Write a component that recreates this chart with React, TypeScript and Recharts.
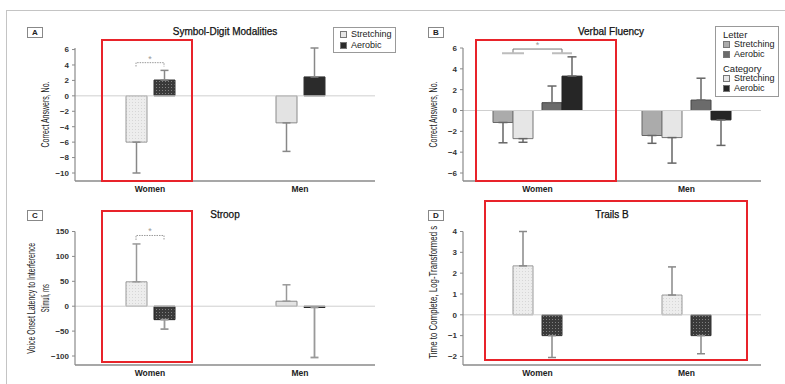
import React from "react";
import { BarChart, Bar, XAxis, YAxis, ErrorBar, ReferenceLine, Cell, LabelList } from "recharts";

const FONT = "'Liberation Sans', Arial, Helvetica, sans-serif";

const groups = ["Women", "Men"];

// Symbol-Digit Modalities (correct answers, change)
const sdmStretching = [-6, -3.5];
const sdmStretchingErr = [4, 3.7];
const sdmAerobic = [2.05, 2.45];
const sdmAerobicErr = [1.25, 3.75];
const sdmBracket = [[3.8, 4.3], null];
const sdmTicks = [-10, -8, -6, -4, -2, 0, 2, 4, 6];

// Verbal Fluency, letter and category
const vfLetterStretching = [-1.15, -2.4];
const vfLetterStretchingErr = [1.95, 0.75];
const vfCategoryStretching = [-2.7, -2.6];
const vfCategoryStretchingErr = [0.35, 2.45];
const vfLetterAerobic = [0.75, 1.0];
const vfLetterAerobicErr = [1.6, 2.1];
const vfCategoryAerobic = [3.3, -0.9];
const vfCategoryAerobicErr = [1.85, 2.45];
const vfBracket = [[5.5, 5.9], null];
const vfTicks = [-6, -4, -2, 0, 2, 4, 6];

// Stroop, voice onset latency (ms)
const stroopStretching = [49, 10];
const stroopStretchingErr = [76, 33];
const stroopAerobic = [-27, -2.5];
const stroopAerobicErr = [19, 100.5];
const stroopBracket = [[133, 142], null];
const stroopTicks = [-100, -50, 0, 50, 100, 150];

// Trails B, log-transformed time
const trailsStretching = [2.35, 0.95];
const trailsStretchingErr = [1.65, 1.35];
const trailsAerobic = [-1.0, -1.0];
const trailsAerobicErr = [1.05, 0.87];
const trailsTicks = [-2, -1, 0, 1, 2, 3, 4];

const legendSimple = [
  { label: "Stretching", color: "#e6e6e6" },
  { label: "Aerobic", color: "#2b2b2b" },
];
const legendVerbal = [
  { title: "Letter", items: [{ label: "Stretching", color: "#ababab" }, { label: "Aerobic", color: "#6b6b6b" }] },
  { title: "Category", items: [{ label: "Stretching", color: "#e6e6e6" }, { label: "Aerobic", color: "#262626" }] },
];

// error bars only extend away from zero
const toward = (mean: number, err: number) => (mean < 0 ? [err, 0] : [0, err]);

const sdmRows = groups.map((group, i) => ({
  group,
  stretching: sdmStretching[i],
  stretchingErr: toward(sdmStretching[i], sdmStretchingErr[i]),
  aerobic: sdmAerobic[i],
  aerobicErr: toward(sdmAerobic[i], sdmAerobicErr[i]),
  bracket: sdmBracket[i],
  mark: sdmBracket[i] ? "*" : "",
}));

const vfRows = groups.map((group, i) => ({
  group,
  letterStretching: vfLetterStretching[i],
  letterStretchingErr: toward(vfLetterStretching[i], vfLetterStretchingErr[i]),
  categoryStretching: vfCategoryStretching[i],
  categoryStretchingErr: toward(vfCategoryStretching[i], vfCategoryStretchingErr[i]),
  letterAerobic: vfLetterAerobic[i],
  letterAerobicErr: toward(vfLetterAerobic[i], vfLetterAerobicErr[i]),
  categoryAerobic: vfCategoryAerobic[i],
  categoryAerobicErr: toward(vfCategoryAerobic[i], vfCategoryAerobicErr[i]),
  bracket: vfBracket[i],
  mark: vfBracket[i] ? "*" : "",
}));

const stroopRows = groups.map((group, i) => ({
  group,
  stretching: stroopStretching[i],
  stretchingErr: toward(stroopStretching[i], stroopStretchingErr[i]),
  aerobic: stroopAerobic[i],
  aerobicErr: toward(stroopAerobic[i], stroopAerobicErr[i]),
  bracket: stroopBracket[i],
  mark: stroopBracket[i] ? "*" : "",
}));

const trailsRows = groups.map((group, i) => ({
  group,
  stretching: trailsStretching[i],
  stretchingErr: toward(trailsStretching[i], trailsStretchingErr[i]),
  aerobic: trailsAerobic[i],
  aerobicErr: toward(trailsAerobic[i], trailsAerobicErr[i]),
}));

const LIGHT = "#e3e3e3";
const DARK = "#2b2b2b";
const LIGHT_DOTS = "url(#lightDots)";
const DARK_DOTS = "url(#darkDots)";
const AXIS = "#8a8a8a";

const fmt = (v: number) => (v < 0 ? `\u2212${Math.abs(v)}` : `${v}`);

const yTick = { fontSize: 8, fontWeight: 700, fill: "#333" };
const xTick = { fontSize: 8.5, fontWeight: 700, fill: "#222" };

const xAxisProps = {
  dataKey: "group",
  axisLine: { stroke: AXIS, strokeWidth: 1.5 },
  tickLine: false,
  tickSize: 0,
  tickMargin: 5,
  tick: xTick,
  height: 15,
  interval: 0 as const,
};

const yAxisProps = {
  type: "number" as const,
  width: 40,
  axisLine: { stroke: AXIS, strokeWidth: 1.2 },
  tickLine: { stroke: AXIS },
  tickSize: 3,
  tickMargin: 3,
  tick: yTick,
  tickFormatter: fmt,
  interval: 0 as const,
};

// vertical axis title set in vertical writing mode, turned to read bottom-to-top
function AxisTitle(props: any) {
  const { viewBox, lines, lengths, shift = 0 } = props;
  if (!viewBox) return null;
  const cy = viewBox.y + viewBox.height / 2 + shift;
  const right = viewBox.x + viewBox.width - 30;
  return (
    <g>
      {lines.map((line: string, i: number) => {
        const cx = right - (lines.length - 1 - i) * 13.3;
        return (
          <text
            key={line}
            x={cx}
            y={cy}
            writingMode="vertical-rl"
            transform={`rotate(180 ${cx} ${cy})`}
            textAnchor="middle"
            fontSize={10}
            fill="#1a1a1a"
            textLength={lengths[i]}
            lengthAdjust="spacingAndGlyphs"
          >
            {line}
          </text>
        );
      })}
    </g>
  );
}

// dotted bracket between the two bars of a group
function SigBracket(props: any) {
  const { x, y, width, height, payload } = props;
  if (!Number.isFinite(y) || !height) return null;
  if (payload && payload.bracket == null) return null;
  const top = Math.min(y, y + height);
  const foot = Math.max(y, y + height);
  return (
    <path
      d={`M${x},${foot}V${top}H${x + width}V${foot}`}
      fill="none"
      stroke="#9a9a9a"
      strokeWidth={1}
      strokeDasharray="1.5 1"
    />
  );
}

// bracket joining the letter/category pairs
function PairBracket(props: any) {
  const { x, y, width, height, payload } = props;
  if (!Number.isFinite(y) || !height) return null;
  if (payload && payload.bracket == null) return null;
  const top = Math.min(y, y + height);
  const foot = Math.max(y, y + height);
  return (
    <g fill="none">
      <path d={`M${x},${foot}V${top}H${x + width}V${foot}`} stroke="#777" strokeWidth={1} />
      <path d={`M${x - 11},${foot}H${x + 11}M${x + width - 10},${foot}H${x + width + 10}`} stroke="#bdbdbd" strokeWidth={2} />
    </g>
  );
}

const box = (left: number, top: number, width: number, height: number): React.CSSProperties => ({
  position: "absolute",
  left,
  top,
  width,
  height,
  boxSizing: "border-box",
});

function PanelTag({ left, top, text }: { left: number; top: number; text: string }) {
  return (
    <div
      style={{
        ...box(left, top, 16, 11),
        border: "1px solid #888",
        fontSize: 8,
        fontWeight: 700,
        lineHeight: "9px",
        textAlign: "center",
        color: "#222",
        background: "#fff",
      }}
    >
      {text}
    </div>
  );
}

function Title({ cx, cy, text }: { cx: number; cy: number; text: string }) {
  return (
    <div
      style={{
        position: "absolute",
        left: cx - 80,
        top: cy - 7,
        width: 160,
        height: 14,
        lineHeight: "14px",
        textAlign: "center",
        fontSize: 10,
        color: "#111",
        WebkitTextStroke: "0.25px #111",
      }}
    >
      {text}
    </div>
  );
}

function Highlight({ left, top, width, height }: { left: number; top: number; width: number; height: number }) {
  return <div style={{ ...box(left, top, width, height), border: "2px solid #e8232a", pointerEvents: "none" }} />;
}

function Swatch({ color }: { color: string }) {
  return (
    <span
      style={{
        display: "inline-block",
        width: 7,
        height: 7,
        background: color,
        border: "1px solid #777",
        boxSizing: "border-box",
        marginRight: 4,
      }}
    />
  );
}

export default function App() {
  return (
    <div
      style={{
        position: "absolute",
        left: 0,
        top: 0,
        width: 785,
        height: 384,
        overflow: "hidden",
        background: "#fff",
        fontFamily: FONT,
      }}
    >
      <svg width={0} height={0} style={{ position: "absolute" }}>
        <defs>
          <pattern id="lightDots" width={3} height={3} patternUnits="userSpaceOnUse">
            <rect width={3} height={3} fill="#ededed" />
            <rect width={1} height={1} fill="#d6d6d6" />
          </pattern>
          <pattern id="darkDots" width={3} height={3} patternUnits="userSpaceOnUse">
            <rect width={3} height={3} fill="#3a3a3a" />
            <rect width={1} height={1} fill="#808080" />
          </pattern>
        </defs>
      </svg>

      <div style={{ ...box(6, 10, 900, 500), border: "1.5px solid #c4c4c4" }} />

      {/* A: Symbol-Digit Modalities */}
      <div style={box(0, 0, 400, 196)}>
        <BarChart width={400} height={196} data={sdmRows} margin={{ top: 48, right: 25, bottom: 0, left: 35 }} barGap={7}>
          <XAxis {...xAxisProps} />
          <XAxis xAxisId="br" dataKey="group" hide />
          <YAxis
            {...yAxisProps}
            domain={[-10, 6]}
            ticks={sdmTicks}
            padding={{ top: 0, bottom: 8 }}
            label={<AxisTitle lines={["Correct Answers, No."]} lengths={[66]} />}
          />
          <ReferenceLine y={0} stroke="#cfcfcf" />
          <Bar dataKey="stretching" barSize={21} fill={LIGHT} stroke="#8a8a8a" isAnimationActive={false}>
            <Cell fill={LIGHT_DOTS} stroke="#999" />
            <Cell fill={LIGHT} />
            <ErrorBar dataKey="stretchingErr" width={4} stroke="#888" strokeWidth={1.5} direction="y" />
          </Bar>
          <Bar dataKey="aerobic" barSize={21} fill={DARK} stroke="#333" isAnimationActive={false}>
            <Cell fill={DARK_DOTS} />
            <Cell fill={DARK} />
            <ErrorBar dataKey="aerobicErr" width={4} stroke="#888" strokeWidth={1.5} direction="y" />
          </Bar>
          <Bar xAxisId="br" dataKey="bracket" barSize={28} shape={<SigBracket />} isAnimationActive={false}>
            <LabelList dataKey="mark" position="top" offset={1} fill="#999" fontSize={9} />
          </Bar>
        </BarChart>
      </div>

      {/* B: Verbal Fluency */}
      <div style={box(395, 0, 390, 196)}>
        <BarChart width={390} height={196} data={vfRows} margin={{ top: 48, right: 24, bottom: 0, left: 28 }} barGap={0}>
          <XAxis {...xAxisProps} />
          <XAxis xAxisId="br" dataKey="group" hide />
          <YAxis
            {...yAxisProps}
            domain={[-6, 6]}
            ticks={vfTicks}
            padding={{ top: 0, bottom: 8 }}
            label={<AxisTitle lines={["Correct Answers, No."]} lengths={[66]} />}
          />
          <ReferenceLine y={0} stroke="#cfcfcf" />
          <Bar dataKey="letterStretching" barSize={20} fill="#ababab" stroke="#666" isAnimationActive={false}>
            <ErrorBar dataKey="letterStretchingErr" width={4.5} stroke="#666" strokeWidth={1.5} direction="y" />
          </Bar>
          <Bar dataKey="categoryStretching" barSize={20} fill="#e6e6e6" stroke="#777" isAnimationActive={false}>
            <ErrorBar dataKey="categoryStretchingErr" width={4.5} stroke="#666" strokeWidth={1.5} direction="y" />
          </Bar>
          <Bar dataKey="pairGap" barSize={9} isAnimationActive={false} />
          <Bar dataKey="letterAerobic" barSize={20} fill="#6b6b6b" stroke="#444" isAnimationActive={false}>
            <ErrorBar dataKey="letterAerobicErr" width={4.5} stroke="#666" strokeWidth={1.5} direction="y" />
          </Bar>
          <Bar dataKey="categoryAerobic" barSize={20} fill="#262626" stroke="#222" isAnimationActive={false}>
            <ErrorBar dataKey="categoryAerobicErr" width={4.5} stroke="#666" strokeWidth={1.5} direction="y" />
          </Bar>
          <Bar xAxisId="br" dataKey="bracket" barSize={49} shape={<PairBracket />} isAnimationActive={false}>
            <LabelList dataKey="mark" position="top" offset={1} fill="#999" fontSize={9} />
          </Bar>
        </BarChart>
      </div>

      {/* C: Stroop */}
      <div style={box(0, 195, 400, 189)}>
        <BarChart width={400} height={189} data={stroopRows} margin={{ top: 36.5, right: 25, bottom: 4, left: 35 }} barGap={7}>
          <XAxis {...xAxisProps} />
          <XAxis xAxisId="br" dataKey="group" hide />
          <YAxis
            {...yAxisProps}
            domain={[-100, 150]}
            ticks={stroopTicks}
            padding={{ top: 0, bottom: 7.5 }}
            label={<AxisTitle lines={["Voice Onset Latency to Interference", "Stimuli, ms"]} lengths={[111, 28]} />}
          />
          <ReferenceLine y={0} stroke="#cfcfcf" />
          <Bar dataKey="stretching" barSize={21} fill={LIGHT} stroke="#8a8a8a" isAnimationActive={false}>
            <Cell fill={LIGHT_DOTS} stroke="#999" />
            <Cell fill={LIGHT} />
            <ErrorBar dataKey="stretchingErr" width={4} stroke="#999" strokeWidth={1.5} direction="y" />
          </Bar>
          <Bar dataKey="aerobic" barSize={21} fill={DARK} stroke="#222" isAnimationActive={false}>
            <Cell fill={DARK_DOTS} />
            <Cell fill={DARK} />
            <ErrorBar dataKey="aerobicErr" width={4} stroke="#999" strokeWidth={1.8} direction="y" />
          </Bar>
          <Bar xAxisId="br" dataKey="bracket" barSize={28} shape={<SigBracket />} isAnimationActive={false}>
            <LabelList dataKey="mark" position="top" offset={1} fill="#999" fontSize={9} />
          </Bar>
        </BarChart>
      </div>

      {/* D: Trails B — the surface reaches further up and left so the long axis title has room */}
      <div style={box(345, 175, 440, 209)}>
        <BarChart width={440} height={209} data={trailsRows} margin={{ top: 56.5, right: 24, bottom: 4, left: 78 }} barGap={9}>
          <XAxis {...xAxisProps} />
          <YAxis
            {...yAxisProps}
            domain={[-2, 4]}
            ticks={trailsTicks}
            padding={{ top: 0, bottom: 7.5 }}
            label={<AxisTitle lines={["Time to Complete, Log-Transformed s"]} lengths={[133]} shift={-6} />}
          />
          <ReferenceLine y={0} stroke="#cfcfcf" />
          <Bar dataKey="stretching" barSize={20} fill={LIGHT_DOTS} stroke="#999" isAnimationActive={false}>
            <ErrorBar dataKey="stretchingErr" width={4} stroke="#888" strokeWidth={1.5} direction="y" />
          </Bar>
          <Bar dataKey="aerobic" barSize={20} fill={DARK_DOTS} stroke="#333" isAnimationActive={false}>
            <ErrorBar dataKey="aerobicErr" width={4} stroke="#888" strokeWidth={1.5} direction="y" />
          </Bar>
        </BarChart>
      </div>

      <PanelTag left={27} top={27} text="A" />
      <PanelTag left={428} top={27} text="B" />
      <PanelTag left={27} top={210} text="C" />
      <PanelTag left={428} top={210} text="D" />

      <Title cx={225} cy={32} text="Symbol-Digit Modalities" />
      <Title cx={611} cy={32} text="Verbal Fluency" />
      <Title cx={225} cy={215} text="Stroop" />
      <Title cx={612} cy={215} text="Trails B" />

      <div style={{ ...box(333, 27, 63, 26), border: "1px solid #999", background: "#fff", padding: "1px 0 0 6px", fontSize: 9, color: "#222" }}>
        {legendSimple.map((e) => (
          <div key={e.label} style={{ height: 11.3, lineHeight: "11.3px", display: "flex", alignItems: "center" }}>
            <Swatch color={e.color} />
            {e.label}
          </div>
        ))}
      </div>

      <div style={{ ...box(715, 26, 64, 71), border: "1px solid #999", background: "#fff", padding: "3px 0 0 7px", fontSize: 9, color: "#222" }}>
        {legendVerbal.map((g, gi) => (
          <div key={g.title} style={{ marginTop: gi ? 5 : 0 }}>
            <div style={{ height: 10, lineHeight: "10px", fontSize: 9.5 }}>{g.title}</div>
            {g.items.map((e) => (
              <div key={e.label} style={{ height: 9.6, lineHeight: "9.6px", display: "flex", alignItems: "center" }}>
                <Swatch color={e.color} />
                {e.label}
              </div>
            ))}
          </div>
        ))}
      </div>

      <Highlight left={101} top={39} width={92} height={143} />
      <Highlight left={475} top={39} width={142} height={143} />
      <Highlight left={101} top={210} width={92} height={153} />
      <Highlight left={484} top={200} width={264} height={161} />
    </div>
  );
}
